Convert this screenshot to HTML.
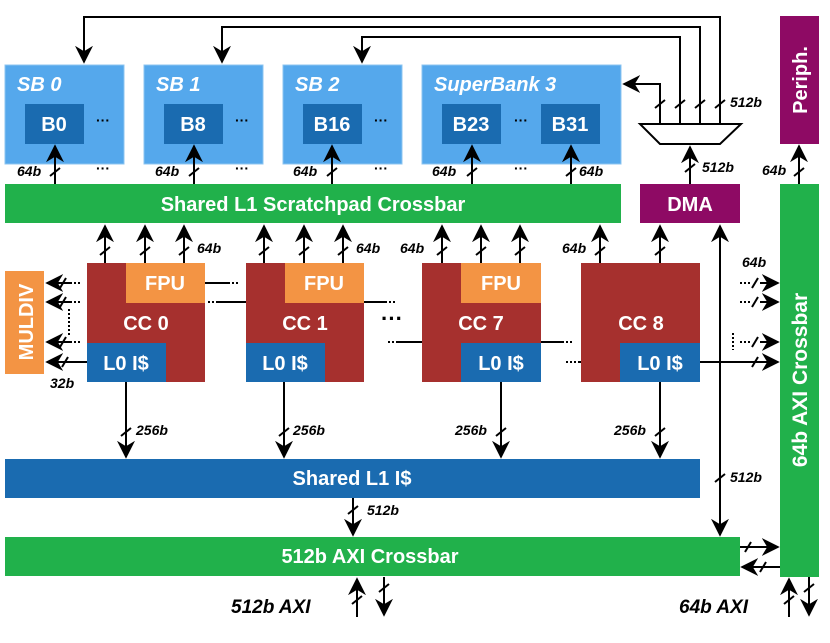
<!DOCTYPE html>
<html><head><meta charset="utf-8"><style>
html,body{margin:0;padding:0;background:#fff;}
svg{display:block;font-family:"Liberation Sans",Arial,sans-serif;font-weight:bold;}
.w{fill:#fff;}
.l{stroke:#000;stroke-width:2;fill:none;}
.d{stroke:#000;stroke-width:2;fill:none;stroke-dasharray:2 2;}
.lab{font-style:italic;font-size:14px;fill:#000;}
</style></head><body>
<svg width="830" height="643" viewBox="0 0 830 643" xmlns="http://www.w3.org/2000/svg">
<defs>
<marker id="b" viewBox="0 0 10 10" refX="9" refY="5" markerWidth="18" markerHeight="18" orient="auto" markerUnits="userSpaceOnUse">
<path d="M0,0 L10,5 L0,10 L3,5 Z" fill="#000"/></marker>
</defs>

<!-- top feedback lines -->
<path class="l" d="M720,124 V17 H84 V62" marker-end="url(#b)"/>
<path class="l" d="M700,124 V27 H222 V62" marker-end="url(#b)"/>
<path class="l" d="M680,124 V37 H362 V62" marker-end="url(#b)"/>
<path class="l" d="M660,124 V84 H624" marker-end="url(#b)"/>
<g class="l"><path d="M655,108 l10,-8 M675,108 l10,-8 M695,108 l10,-8 M715,108 l10,-8"/></g>
<text class="lab" x="730" y="107">512b</text>
<path d="M640,124 H741 L720,144 H660 Z" fill="#fff" stroke="#000" stroke-width="2"/>
<path class="l" d="M690,184 V147" marker-end="url(#b)"/>
<path class="l" d="M685,172 l10,-8"/>
<text class="lab" x="702" y="172">512b</text>

<!-- Superbanks -->
<g fill="#55a8ec" stroke="#8cc4f0" stroke-width="1">
<rect x="5" y="65" width="119" height="99"/>
<rect x="144" y="65" width="119" height="99"/>
<rect x="283" y="65" width="119" height="99"/>
<rect x="422" y="65" width="199" height="99"/>
</g>
<g font-style="italic" font-size="20" class="w">
<text x="17" y="91">SB 0</text><text x="156" y="91">SB 1</text><text x="295" y="91">SB 2</text><text x="434" y="91">SuperBank 3</text>
</g>
<g fill="#1a6bb0">
<rect x="25" y="104" width="59" height="40"/><rect x="164" y="104" width="59" height="40"/>
<rect x="303" y="104" width="59" height="40"/><rect x="442" y="104" width="59" height="40"/>
<rect x="541" y="104" width="59" height="40"/>
</g>
<g font-size="20" class="w" text-anchor="middle">
<text x="54" y="131">B0</text><text x="193" y="131">B8</text><text x="332" y="131">B16</text>
<text x="471" y="131">B23</text><text x="570" y="131">B31</text>
</g>
<g font-size="14" text-anchor="middle" fill="#000">
<text x="103" y="125">···</text><text x="242" y="125">···</text><text x="381" y="125">···</text><text x="521" y="125">···</text>
<text x="103" y="173">···</text><text x="242" y="173">···</text><text x="381" y="173">···</text><text x="521" y="173">···</text>
</g>
<g class="l">
<path d="M55,184 V146" marker-end="url(#b)"/><path d="M194,184 V146" marker-end="url(#b)"/>
<path d="M332,184 V146" marker-end="url(#b)"/><path d="M472,184 V146" marker-end="url(#b)"/>
<path d="M571,184 V146" marker-end="url(#b)"/>
<path d="M50,176 l10,-8 M189,176 l10,-8 M327,176 l10,-8 M467,176 l10,-8 M566,176 l10,-8"/>
</g>
<g class="lab"><text x="17" y="176">64b</text><text x="155" y="176">64b</text><text x="293" y="176">64b</text><text x="432" y="176">64b</text><text x="579" y="176">64b</text></g>

<rect x="5" y="184" width="616" height="39" fill="#21b14b"/>
<text x="313" y="211" font-size="20" class="w" text-anchor="middle">Shared L1 Scratchpad Crossbar</text>
<rect x="640" y="184" width="100" height="39" fill="#8e0a64"/>
<text x="690" y="211" font-size="20" class="w" text-anchor="middle">DMA</text>

<rect x="780" y="16" width="39" height="128" fill="#8e0a64"/>
<text transform="translate(807,80) rotate(-90)" font-size="20" class="w" text-anchor="middle">Periph.</text>
<path class="l" d="M799,184 V146" marker-end="url(#b)"/><path class="l" d="M794,176 l10,-8"/>
<text class="lab" x="762" y="175">64b</text>
<rect x="780" y="184" width="39" height="393" fill="#21b14b"/>
<text transform="translate(807,380) rotate(-90)" font-size="21" class="w" text-anchor="middle">64b AXI Crossbar</text>

<g class="l">
<path d="M105,263 V226" marker-end="url(#b)"/><path d="M145,263 V226" marker-end="url(#b)"/><path d="M184,263 V226" marker-end="url(#b)"/>
<path d="M264,263 V226" marker-end="url(#b)"/><path d="M304,263 V226" marker-end="url(#b)"/><path d="M343,263 V226" marker-end="url(#b)"/>
<path d="M442,263 V226" marker-end="url(#b)"/><path d="M481,263 V226" marker-end="url(#b)"/><path d="M520,263 V226" marker-end="url(#b)"/>
<path d="M600,263 V226" marker-end="url(#b)"/>
<path d="M660,263 V226" marker-end="url(#b)"/>
<path d="M100,255 l10,-8 M140,255 l10,-8 M179,255 l10,-8 M259,255 l10,-8 M299,255 l10,-8 M338,255 l10,-8 M437,255 l10,-8 M476,255 l10,-8 M515,255 l10,-8 M595,255 l10,-8 M655,255 l10,-8"/>
<path d="M720,532 V226" marker-end="url(#b)"/>
<path d="M720,300 V535" marker-end="url(#b)"/>
<path d="M715,482 l10,-8"/>
</g>
<g class="lab"><text x="197" y="253">64b</text><text x="356" y="253">64b</text><text x="400" y="253">64b</text><text x="562" y="253">64b</text></g>
<text class="lab" x="730" y="482">512b</text>

<g>
<rect x="87" y="263" width="118" height="119" fill="#a6302e"/>
<rect x="126" y="263" width="79" height="40" fill="#f39444"/>
<rect x="87" y="343" width="79" height="39" fill="#1a6bb0"/>
<rect x="246" y="263" width="118" height="119" fill="#a6302e"/>
<rect x="285" y="263" width="79" height="40" fill="#f39444"/>
<rect x="246" y="343" width="79" height="39" fill="#1a6bb0"/>
<rect x="422" y="263" width="119" height="119" fill="#a6302e"/>
<rect x="461" y="263" width="80" height="40" fill="#f39444"/>
<rect x="461" y="343" width="80" height="39" fill="#1a6bb0"/>
<rect x="581" y="263" width="119" height="119" fill="#a6302e"/>
<rect x="620" y="343" width="80" height="39" fill="#1a6bb0"/>
</g>
<g font-size="20" class="w" text-anchor="middle">
<text x="165" y="290">FPU</text><text x="324" y="290">FPU</text><text x="501" y="290">FPU</text>
<text x="146" y="330">CC 0</text><text x="305" y="330">CC 1</text><text x="481" y="330">CC 7</text><text x="641" y="330">CC 8</text>
<text x="126" y="370">L0 I$</text><text x="285" y="370">L0 I$</text><text x="501" y="370">L0 I$</text><text x="660" y="370">L0 I$</text>
</g>
<text x="392" y="326" font-size="22" text-anchor="middle" fill="#000">···</text>
<g class="l"><path d="M205,283 H228 M218,302 H246 M364,302 H385 M398,342 H422 M541,342 H562 M578,362 H581"/></g>
<g class="d"><path d="M228,283 H238 M208,302 H218 M385,302 H395 M388,342 H398 M562,342 H572 M566,362 H578"/></g>

<rect x="5" y="271" width="39" height="103" fill="#f39444"/>
<text transform="translate(33,322) rotate(-90)" font-size="20" class="w" text-anchor="middle">MULDIV</text>
<g class="l">
<path d="M70,283 H47" marker-end="url(#b)"/><path d="M70,302 H47" marker-end="url(#b)"/>
<path d="M70,342 H47" marker-end="url(#b)"/><path d="M87,362 H47" marker-end="url(#b)"/>
<path d="M60,288 l6,-10 M60,307 l6,-10 M60,347 l6,-10 M62,367 l6,-10"/>
</g>
<g class="d"><path d="M70,283 H80 M70,302 H80 M70,342 H80 M69,309 V336"/></g>
<text class="lab" x="50" y="388">32b</text>

<g class="l">
<path d="M760,283 H778" marker-end="url(#b)"/><path d="M760,302 H778" marker-end="url(#b)"/>
<path d="M760,342 H778" marker-end="url(#b)"/><path d="M700,362 H778" marker-end="url(#b)"/>
<path d="M752,288 l6,-10 M752,307 l6,-10 M752,347 l6,-10 M752,367 l6,-10"/>
</g>
<g class="d"><path d="M740,283 H752 M740,302 H752 M740,342 H752 M733,333 V350"/></g>
<text class="lab" x="742" y="267">64b</text>

<g class="l">
<path d="M126,382 V457" marker-end="url(#b)"/><path d="M284,382 V457" marker-end="url(#b)"/>
<path d="M501,382 V457" marker-end="url(#b)"/><path d="M660,382 V457" marker-end="url(#b)"/>
<path d="M121,436 l10,-8 M279,436 l10,-8 M496,436 l10,-8 M655,436 l10,-8"/>
</g>
<g class="lab"><text x="136" y="435">256b</text><text x="293" y="435">256b</text><text x="455" y="435">256b</text><text x="614" y="435">256b</text></g>

<rect x="5" y="459" width="695" height="39" fill="#1a6bb0"/>
<text x="352" y="485" font-size="20" class="w" text-anchor="middle">Shared L1 I$</text>
<path class="l" d="M353,498 V535" marker-end="url(#b)"/><path class="l" d="M348,514 l10,-8"/>
<text class="lab" x="367" y="515">512b</text>

<rect x="5" y="537" width="735" height="39" fill="#21b14b"/>
<text x="370" y="563" font-size="20" class="w" text-anchor="middle">512b AXI Crossbar</text>
<g class="l">
<path d="M357,617 V579" marker-end="url(#b)"/><path d="M384,577 V615" marker-end="url(#b)"/>
<path d="M352,604 l10,-8 M379,592 l10,-8"/>
<path d="M740,547 H778" marker-end="url(#b)"/><path d="M780,567 H742" marker-end="url(#b)"/>
<path d="M745,552 l6,-10 M760,572 l6,-10"/>
<path d="M789,617 V579" marker-end="url(#b)"/><path d="M809,577 V615" marker-end="url(#b)"/>
<path d="M784,604 l10,-8 M804,592 l10,-8"/>
</g>
<g font-style="italic" font-size="19" fill="#000">
<text x="231" y="613">512b AXI</text><text x="679" y="613">64b AXI</text>
</g>
</svg>
</body></html>
